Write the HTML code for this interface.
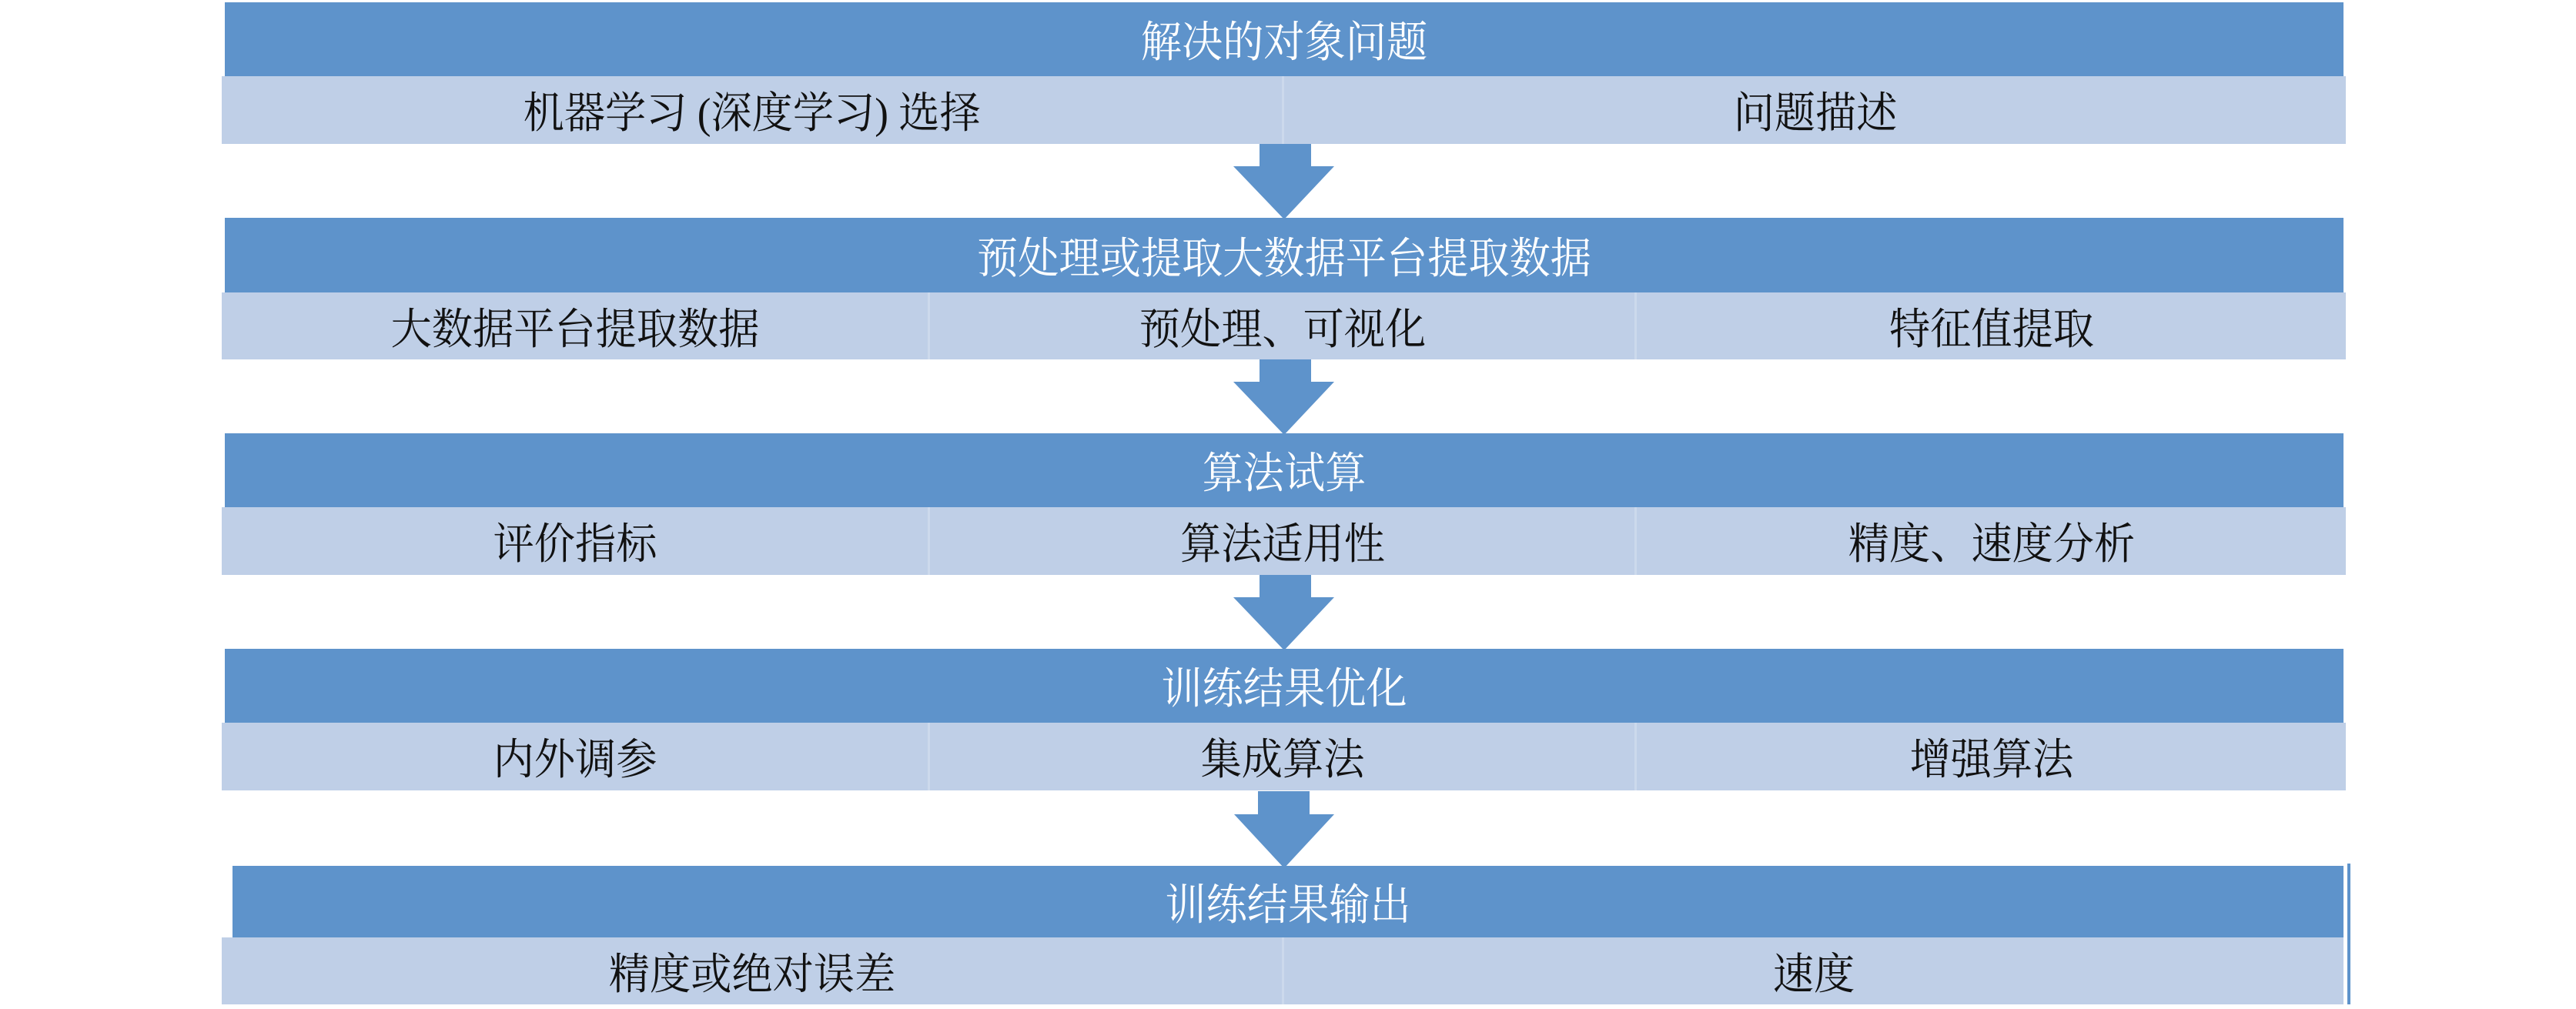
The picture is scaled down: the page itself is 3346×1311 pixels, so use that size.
<!DOCTYPE html>
<html><head><meta charset="utf-8"><style>
body{margin:0;width:3346px;height:1311px;background:#fff;position:relative;overflow:hidden;font-family:"Liberation Serif","Noto Serif CJK SC",serif;}
.b{position:absolute;background:#5e93cb;color:#fff;font-size:56px;display:flex;align-items:center;justify-content:center;}
.s{position:absolute;background:#bfcfe7;color:#111;font-size:56px;display:flex;align-items:center;justify-content:center;box-sizing:border-box;border-right:3px solid #ccd9ec;}
.b span,.s span{display:inline-block;transform:scaleX(0.95);}
svg{position:absolute;left:0;top:0}
</style></head><body>
<div class="b" style="left:292px;top:3px;width:2752px;height:96px"><span>解决的对象问题</span></div>
<div class="s" style="left:288px;top:99px;width:1380px;height:88px"><span>机器学习 (深度学习) 选择</span></div>
<div class="s" style="left:1668px;top:99px;width:1379px;height:88px;border:none"><span>问题描述</span></div>

<div class="b" style="left:292px;top:283px;width:2752px;height:97px"><span>预处理或提取大数据平台提取数据</span></div>
<div class="s" style="left:288px;top:380px;width:920px;height:87px"><span>大数据平台提取数据</span></div>
<div class="s" style="left:1208px;top:380px;width:918px;height:87px"><span>预处理、可视化</span></div>
<div class="s" style="left:2126px;top:380px;width:921px;height:87px;border:none"><span>特征值提取</span></div>

<div class="b" style="left:292px;top:563px;width:2752px;height:96px"><span>算法试算</span></div>
<div class="s" style="left:288px;top:659px;width:920px;height:88px"><span>评价指标</span></div>
<div class="s" style="left:1208px;top:659px;width:918px;height:88px"><span>算法适用性</span></div>
<div class="s" style="left:2126px;top:659px;width:921px;height:88px;border:none"><span>精度、速度分析</span></div>

<div class="b" style="left:292px;top:843px;width:2752px;height:96px"><span>训练结果优化</span></div>
<div class="s" style="left:288px;top:939px;width:920px;height:88px"><span>内外调参</span></div>
<div class="s" style="left:1208px;top:939px;width:918px;height:88px"><span>集成算法</span></div>
<div class="s" style="left:2126px;top:939px;width:921px;height:88px;border:none"><span>增强算法</span></div>

<div class="b" style="left:302px;top:1125px;width:2742px;height:93px"><span>训练结果输出</span></div>
<div class="s" style="left:288px;top:1218px;width:1380px;height:87px"><span>精度或绝对误差</span></div>
<div class="s" style="left:1668px;top:1218px;width:1376px;height:87px;border:none"><span>速度</span></div>
<div style="position:absolute;left:3049px;top:1122px;width:4px;height:183px;background:#5e93cb"></div>

<svg width="3346" height="1311">
<g fill="#5e93cb">
<polygon points="1636,187 1703,187 1703,216 1733,216 1668,285 1602,216 1636,216"/>
<polygon points="1636,467 1703,467 1703,496 1733,496 1668,565 1602,496 1636,496"/>
<polygon points="1636,747 1703,747 1703,776 1733,776 1668,845 1602,776 1636,776"/>
<polygon points="1634,1028 1701,1028 1701,1058 1733,1058 1668,1128 1603,1058 1634,1058"/>
</g>
</svg>
</body></html>
